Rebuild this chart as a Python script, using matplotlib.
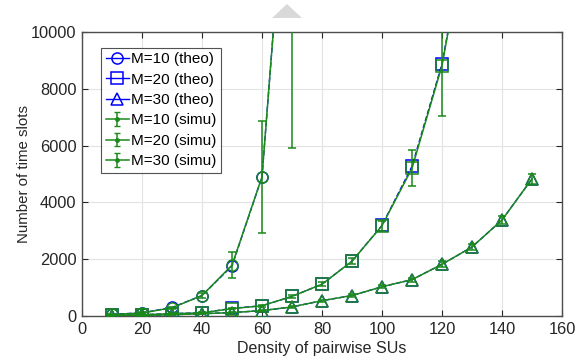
import matplotlib

matplotlib.use("Agg")
import matplotlib.pyplot as plt
from matplotlib.lines import Line2D
from matplotlib.patches import Polygon
from matplotlib.collections import LineCollection
from matplotlib.legend_handler import HandlerErrorbar
from matplotlib.container import ErrorbarContainer

# Density of pairwise SUs
x10 = [10, 20, 30, 40, 50, 60, 70]
x20 = [10, 20, 30, 40, 50, 60, 70, 80, 90, 100, 110, 120, 130]
x30 = [10, 20, 30, 40, 50, 60, 70, 80, 90, 100, 110, 120, 130, 140, 150]

# theoretical number of time slots
theo10 = [60, 110, 300, 720, 1760, 4900, 18500]
theo20 = [25, 45, 85, 110, 270, 360, 690, 1120, 1930, 3190, 5270, 8880, 14600]
theo30 = [10, 20, 45, 80, 120, 190, 320, 540, 720, 1030, 1280, 1820, 2430, 3380, 4830]

# simulated means and half-width of the error bars
simu10 = [55, 105, 290, 720, 1790, 4900, 18500]
err10 = [10, 20, 40, 90, 460, 1980, 12600]
simu20 = [25, 45, 80, 110, 260, 360, 690, 1120, 1930, 3180, 5200, 8820, 14600]
err20 = [5, 10, 15, 20, 30, 40, 60, 80, 110, 170, 640, 1780, 3000]
simu30 = [10, 20, 45, 80, 120, 190, 320, 540, 720, 1030, 1280, 1820, 2430, 3380, 4830]
err30 = [3, 5, 8, 10, 15, 20, 30, 40, 50, 60, 70, 100, 100, 130, 170]

labels_theo = ["M=10 (theo)", "M=20 (theo)", "M=30 (theo)"]
labels_simu = ["M=10 (simu)", "M=20 (simu)", "M=30 (simu)"]

BLUE = "#0000ff"
GREEN = "#1a8a1a"

plt.rcParams.update({
    "font.family": ["Liberation Sans", "DejaVu Sans"],
    "font.size": 11,
})

fig = plt.figure(figsize=(5.84, 3.62), dpi=100)
ax = fig.add_axes([82 / 584, 1 - 316 / 362, 480 / 584, 284 / 362])

series = [
    (x10, theo10, simu10, err10, "o"),
    (x20, theo20, simu20, err20, "s"),
    (x30, theo30, simu30, err30, "^"),
]

for xs, th, sm, er, mk in series:
    ax.plot(xs, th, "--", color=BLUE, marker=mk, markersize=8,
            markerfacecolor="none", markeredgewidth=1.1, linewidth=1.0, zorder=3)
for xs, th, sm, er, mk in series:
    ax.errorbar(xs, sm, yerr=er, color=GREEN, marker=mk, markersize=8,
                markerfacecolor="none", markeredgewidth=1.1, linewidth=1.1,
                elinewidth=1.1, capsize=3, zorder=4)

ax.set_xlim(0, 160)
ax.set_ylim(0, 10000)
ax.set_xticks(range(0, 161, 20))
ax.set_yticks(range(0, 10001, 2000))
ax.grid(True, color="#e3e3e3", linewidth=0.8)
ax.set_axisbelow(True)
ax.tick_params(direction="in", top=True, right=True, length=4,
               colors="#262626", labelsize=11.8, pad=4)
for spine in ax.spines.values():
    spine.set_color("#4d4d4d")
    spine.set_linewidth(1.0)
ax.set_xlabel("Density of pairwise SUs", fontsize=11.5, color="#262626", labelpad=3)
ax.set_ylabel("Number of time slots", fontsize=10.8, color="#262626", labelpad=0)

# legend handles: blue theo lines with markers, green simu errorbars
handles = []
for mk in ["o", "s", "^"]:
    handles.append(Line2D([], [], color=BLUE, marker=mk, markersize=8,
                          markerfacecolor="none", markeredgewidth=1.1, linewidth=1.0))
for _ in range(3):
    line = Line2D([], [], color=GREEN, marker=".", markersize=5, linewidth=1.1)
    cap1 = Line2D([], [], color=GREEN, marker="_", markersize=4, linestyle="none")
    barline = LineCollection([], color=GREEN, linewidth=1.1)
    cont = ErrorbarContainer((line, (cap1,), (barline,)), has_yerr=True)
    handles.append(cont)
leg = ax.legend(handles, labels_theo + labels_simu, loc="upper left",
                bbox_to_anchor=(0.04, 0.945), fontsize=11, frameon=True,
                fancybox=False, edgecolor="#262626", handlelength=1.5,
                handletextpad=0.15, labelspacing=0.42, borderpad=0.3,
                borderaxespad=0,
                handler_map={ErrorbarContainer: HandlerErrorbar(xerr_size=0.4, yerr_size=0.45)})
leg.get_frame().set_linewidth(0.8)

# grey arrow glyph above the plot
fig.patches.append(Polygon([[272 / 584, 1 - 18 / 362], [302 / 584, 1 - 18 / 362],
                            [287 / 584, 1 - 4 / 362]], closed=True,
                           transform=fig.transFigure, facecolor="#d9d9d9",
                           edgecolor="none"))

fig.savefig("out.png", dpi=100)
